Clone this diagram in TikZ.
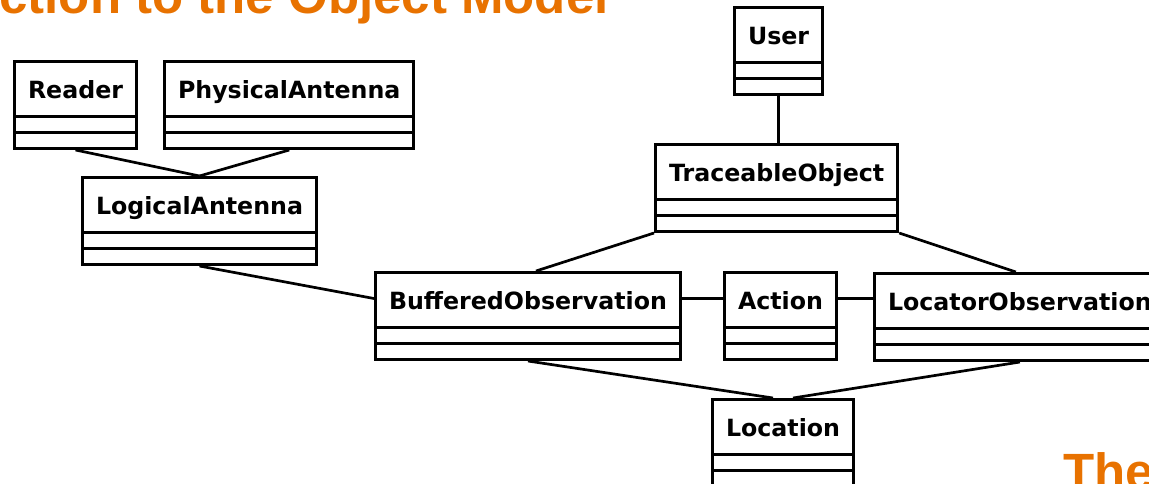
\documentclass[tikz,border=0pt]{standalone}
\usepackage{fontspec}
\usepackage{tikz}
\usepackage{xcolor}
\usetikzlibrary{shapes.multipart}

\setsansfont{DejaVu Sans}
\newfontfamily\titlefont{Liberation Sans}
\definecolor{slideorange}{RGB}{232,114,0}

\tikzset{
	umlclass/.style={draw,line width=1.5pt,rectangle split,rectangle split parts=3,
		rectangle split empty part height=6.5pt,rectangle split empty part depth=0pt,
		inner xsep=6.75pt,inner ysep=0pt,anchor=north west,
		font=\sffamily\bfseries\fontsize{11.85}{14}\selectfont},
	assoc/.style={line width=1.35pt},
	slidetitle/.style={text=slideorange,inner sep=0pt,
		font=\titlefont\bfseries\fontsize{25.5}{30}\selectfont}
}
\newcommand{\classname}[1]{\rule[-8.25pt]{0pt}{26pt}#1\nodepart{two}\nodepart{three}}

\begin{document}
\begin{tikzpicture}[x=0.5pt,y=-0.5pt]
			\useasboundingbox (0,0) rectangle (1149,483);
			\clip (0,0) rectangle (1149,483);
			\node[slidetitle,anchor=base east] (title) at (609,13) {ction to the Object Model};
			\node[slidetitle,anchor=base west] (nexttitle) at (1063,489) {The};

			\node[umlclass] (reader) at (13,60) {\classname{Reader}};
			\node[umlclass] (physant) at (163,60) {\classname{PhysicalAntenna}};
			\node[umlclass] (logant) at (81,176) {\classname{LogicalAntenna}};
			\node[umlclass] (user) at (733,6) {\classname{User}};
			\node[umlclass] (traceobj) at (654,143) {\classname{TraceableObject}};
			\node[umlclass] (bufobs) at (374,271) {\classname{BufferedObservation}};
			\node[umlclass] (action) at (723,271) {\classname{Action}};
			\node[umlclass] (locobs) at (873,272) {\classname{LocatorObservation}};
			\node[umlclass] (location) at (711,398) {\classname{Location}};

			\draw[assoc] (reader.south) -- (logant.north);
			\draw[assoc] (physant.south) -- (logant.north);
			\draw[assoc] (logant.south) -- ([yshift=-13.75pt]bufobs.north west);
			\draw[assoc] (user.south) -- (user.south |- traceobj.north);
			\draw[assoc] (traceobj.south west) -- ([xshift=4pt]bufobs.north);
			\draw[assoc] (traceobj.south east) -- ([xshift=-2pt]locobs.north);
			\draw[assoc] ([yshift=-13.75pt]bufobs.north east) -- ([yshift=-13.75pt]action.north west);
			\draw[assoc] ([yshift=-13.75pt]action.north east) -- ([yshift=-13.75pt]action.north east -| locobs.west);
			\draw[assoc] (bufobs.south) -- ([xshift=-5pt]location.north);
			\draw[assoc] (locobs.south) -- ([xshift=5pt]location.north);
		\end{tikzpicture}
\end{document}
